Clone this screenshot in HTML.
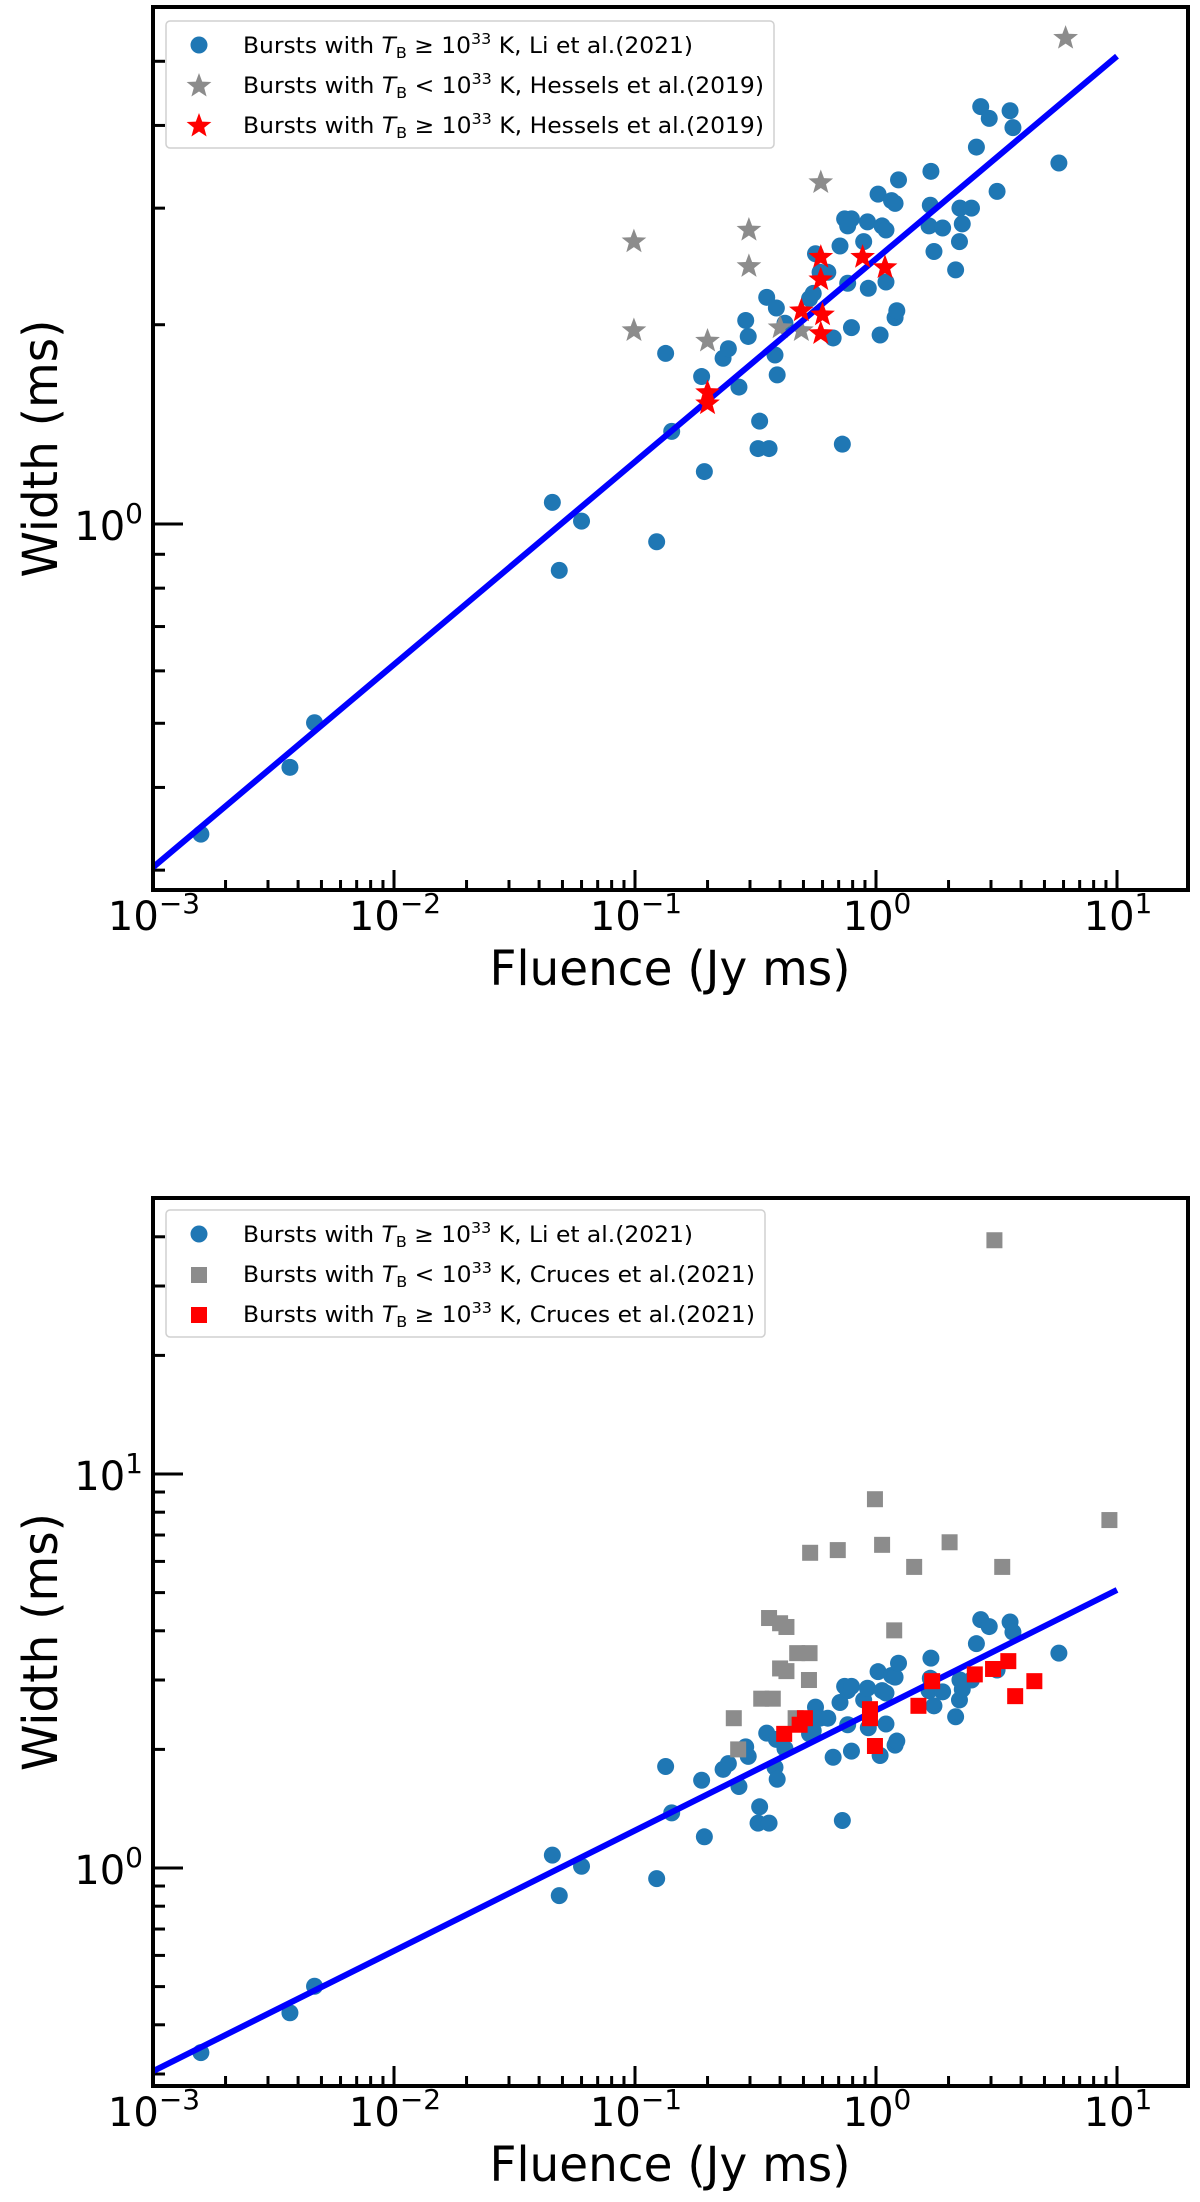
<!DOCTYPE html>
<html><head><meta charset="utf-8"><style>
html,body{margin:0;padding:0;background:#fff;}
svg{display:block;font-family:"DejaVu Sans","Liberation Sans",sans-serif;}
</style></head><body>
<svg id="fig" width="1200" height="2202" viewBox="0 0 1200 2202" xmlns="http://www.w3.org/2000/svg"></svg>
<script>
// ---- data ----
const liFluence=[0.00158,0.0037,0.00468,0.0454,0.0485,0.060,0.123,0.134,0.142,0.189,0.194,0.232,0.244,0.270,0.288,0.295,0.329,0.324,0.36,0.352,0.381,0.389,0.386,0.419,0.530,0.561,0.586,0.631,0.549,0.664,0.709,0.725,0.741,0.763,0.763,0.791,0.791,0.889,0.922,0.929,1.02,1.04,1.06,1.10,1.10,1.16,1.20,1.20,1.22,1.24,1.69,1.68,1.66,1.74,1.89,2.14,2.22,2.23,2.28,2.49,2.61,2.72,2.95,3.18,3.60,3.70,5.74];
const liWidth=[0.34,0.429,0.501,1.078,0.851,1.01,0.94,1.81,1.38,1.67,1.20,1.78,1.84,1.61,2.03,1.92,1.43,1.30,1.30,2.20,1.80,1.68,2.12,2.01,2.19,2.56,2.40,2.40,2.23,1.91,2.63,1.32,2.89,2.82,2.31,2.89,1.98,2.67,2.86,2.27,3.15,1.93,2.82,2.32,2.78,3.08,3.05,2.05,2.10,3.31,3.41,3.03,2.82,2.58,2.80,2.42,2.67,3.00,2.84,3.00,3.71,4.27,4.10,3.18,4.21,3.97,3.51];
const hesLowFluence=[6.12,0.59,0.099,0.297,0.297,0.099,0.2,0.40,0.49];
const hesLowWidth=[5.42,3.28,2.67,2.78,2.45,1.96,1.89,1.98,1.96];
const hesHighFluence=[0.59,0.59,0.88,1.09,0.49,0.60,0.59,0.2,0.2];
const hesHighWidth=[2.53,2.34,2.53,2.44,2.10,2.07,1.94,1.58,1.52];
const cruLowFluence=[3.10,0.99,9.3,0.533,0.694,1.06,2.02,1.44,3.34,0.36,0.40,0.425,1.19,0.471,0.53,0.40,0.425,0.527,0.334,0.373,0.257,0.268,0.464];
const cruLowWidth=[39.2,8.63,7.64,6.31,6.41,6.61,6.71,5.81,5.81,4.31,4.18,4.09,4.01,3.51,3.51,3.21,3.16,3.00,2.69,2.69,2.40,2.00,2.40];
const cruHighFluence=[0.416,0.482,0.507,0.944,0.944,0.99,1.50,1.71,2.57,3.06,3.54,3.78,4.54];
const cruHighWidth=[2.19,2.31,2.40,2.53,2.40,2.04,2.58,2.98,3.10,3.20,3.35,2.73,2.98];
const fitX=[0.001,10];
const fitYTop=[0.303,5.09];
const fitYBot=[0.305,5.08];
const xMajor=[-3,-2,-1,0,1];
const yMajorTop=[0];
const yMajorBot=[0,1];

const NS="http://www.w3.org/2000/svg";
const svg=document.getElementById('fig');
function mk(tag,attrs,parent){const e=document.createElementNS(NS,tag);for(const k in attrs)e.setAttribute(k,attrs[k]);(parent||svg).appendChild(e);return e;}

function makePlot(cfg){
  const L=153,R=1188,T=cfg.top,B=cfg.bottom;
  const sx=v=>L+(Math.log10(v)+3)*241;
  const sy=v=>cfg.y0-Math.log10(v)*cfg.dec;
  const g=mk('g',{});
  
  
  const clipId=cfg.name+'-clip';
  const cp=mk('clipPath',{id:clipId},g);mk('rect',{x:L,y:T,width:R-L,height:B-T},cp);
  const xt=mk('g',{stroke:'#000','stroke-width':3},g);
  
  for(let d=-3;d<=1;d++){for(let m=1;m<=9;m++){const v=m*Math.pow(10,d);const x=sx(v);if(x>R-2)continue;
    const len=m===1?20:10;mk('line',{x1:x,x2:x,y1:B,y2:B-len},xt);}}
  xMajor.forEach(p=>{const t=mk('text',{x:sx(Math.pow(10,p))+1,y:B+40,'font-size':40,'text-anchor':'middle',fill:'#000'},g);
    
    t.innerHTML='10<tspan dy="-17" font-size="28">'+(p<0?'\u2212'+(-p):p)+'</tspan>';});
  const yt=mk('g',{stroke:'#000','stroke-width':3},g);
  
  for(let d=-1;d<=1;d++){for(let m=1;m<=9;m++){const v=m*Math.pow(10,d);const y=sy(v);if(y<T+2||y>B-2)continue;
    const len=m===1?30:12;mk('line',{x1:L,x2:L+len,y1:y,y2:y},yt);}}
  cfg.yMajor.forEach(p=>{const t=mk('text',{x:143,y:sy(Math.pow(10,p))+16,'font-size':40,'text-anchor':'end',fill:'#000'},g);
    
    t.innerHTML='10<tspan dy="-17" font-size="28">'+p+'</tspan>';});
  const xl=mk('text',{x:670,y:B+95,'font-size':48,'text-anchor':'middle',textLength:361,lengthAdjust:'spacingAndGlyphs'},g);
  xl.textContent='Fluence (Jy ms)';
  const cy=(T+B)/2;
  const yl=mk('text',{x:0,y:0,'font-size':48,'text-anchor':'middle',textLength:258,lengthAdjust:'spacingAndGlyphs',transform:'translate(57,'+cy+') rotate(-90)'},g);
  yl.textContent='Width (ms)';
  const marks=mk('g',{'clip-path':'url(#'+clipId+')'},g);
  const li=mk('g',{fill:'#1f77b4'},marks);
  liFluence.forEach((f,i)=>{const c=mk('circle',{cx:sx(f),cy:sy(liWidth[i]),r:8.5},li);
    });
  function star(x,y,r,color,parent){let p='';for(let k=0;k<10;k++){const a=-Math.PI/2+k*Math.PI/5;const rr=k%2?r*0.42:r;p+=(k?'L':'M')+(x+rr*Math.cos(a)).toFixed(1)+' '+(y+rr*Math.sin(a)).toFixed(1);}
    return mk('path',{d:p+'Z',fill:color},parent);}
  function sq(x,y,s,color,parent){return mk('rect',{x:x-s/2,y:y-s/2,width:s,height:s,fill:color},parent);}
  const lowG=mk('g',{},marks);
  cfg.lowF.forEach((f,i)=>{const e=cfg.kind==='star'?star(sx(f),sy(cfg.lowW[i]),13,'#8c8c8c',lowG):sq(sx(f),sy(cfg.lowW[i]),16,'#8c8c8c',lowG);
    });
  const ln=mk('line',{x1:sx(fitX[0]),y1:sy(cfg.fitY[0]),x2:sx(fitX[1]),y2:sy(cfg.fitY[1]),stroke:'#0000ff','stroke-width':6},marks);
  
  const highG=mk('g',{},marks);
  cfg.highF.forEach((f,i)=>{const e=cfg.kind==='star'?star(sx(f),sy(cfg.highW[i]),13,'#ff0000',highG):sq(sx(f),sy(cfg.highW[i]),16,'#ff0000',highG);
    });
  const fr=mk('rect',{x:L,y:T,width:R-L,height:B-T,fill:'none',stroke:'#000','stroke-width':4},g);
  
  const lg=mk('g',{},g);
  mk('rect',{x:166,y:cfg.legY,width:cfg.legW,height:127,rx:4,fill:'#fff','fill-opacity':0.85,stroke:'#d0d0d0','stroke-width':1.5},lg);
  cfg.entries.forEach((en,i)=>{const y=cfg.legY+24+i*40;
    const row=mk('g',{},lg);
    if(en.m==='circle')mk('circle',{cx:199,cy:y,r:8.5,fill:en.c},row);
    else if(en.m==='star')star(199,y+1,13,en.c,row);
    else sq(199,y+1,16,en.c,row);
    const t=mk('text',{x:243,y:y+8,'font-size':22,fill:'#000',textLength:en.w,lengthAdjust:'spacingAndGlyphs'},row);
    t.innerHTML='Bursts with <tspan font-style="italic">T</tspan><tspan font-size="15" dy="5">B</tspan><tspan dy="-5"> '+en.op+' 10</tspan><tspan font-size="15" dy="-9">33</tspan><tspan dy="9"> K, '+en.src+'</tspan>';
  });
}

makePlot({name:'top-plot',top:7,bottom:890,y0:524,dec:662,yMajor:yMajorTop,fitY:fitYTop,kind:'star',
  lowF:hesLowFluence,lowW:hesLowWidth,highF:hesHighFluence,highW:hesHighWidth,lowName:'hessels-low-tb-stars',highName:'hessels-high-tb-stars',
  legY:21,legW:608,entries:[{m:'circle',c:'#1f77b4',op:'\u2265',src:'Li et al.(2021)',w:450},{m:'star',c:'#8c8c8c',op:'<',src:'Hessels et al.(2019)',w:521},{m:'star',c:'#ff0000',op:'\u2265',src:'Hessels et al.(2019)',w:521}]});
makePlot({name:'bottom-plot',top:1198,bottom:2086,y0:1868,dec:394,yMajor:yMajorBot,fitY:fitYBot,kind:'square',
  lowF:cruLowFluence,lowW:cruLowWidth,highF:cruHighFluence,highW:cruHighWidth,lowName:'cruces-low-tb-squares',highName:'cruces-high-tb-squares',
  legY:1210,legW:599,entries:[{m:'circle',c:'#1f77b4',op:'\u2265',src:'Li et al.(2021)',w:450},{m:'square',c:'#8c8c8c',op:'<',src:'Cruces et al.(2021)',w:512},{m:'square',c:'#ff0000',op:'\u2265',src:'Cruces et al.(2021)',w:512}]});
</script>
</body></html>
